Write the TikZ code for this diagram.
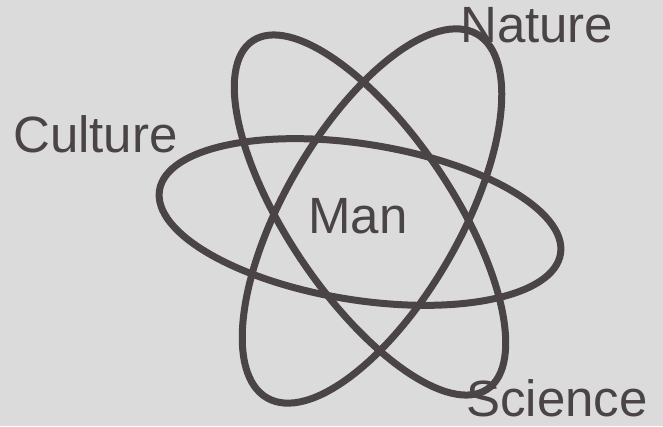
\documentclass[tikz,border=0pt]{standalone}
\usepackage{fontspec}
\setmainfont{Liberation Sans}
\usetikzlibrary{positioning}
\definecolor{paper}{HTML}{DCDBDC}
\definecolor{ink}{HTML}{4A4446}

\tikzset{
  orbit/.style={draw=ink,line width=7pt},
  word/.style={anchor=base west,inner sep=0pt,text=ink,
               font=\fontsize{51}{55}\selectfont}
}

\begin{document}
\begin{tikzpicture}[x=1pt,y=1pt]
  \fill[paper] (0,0) rectangle (663,426);
  \useasboundingbox (0,0) rectangle (663,426);

  % three orbits
  \draw[orbit,rotate around={-9:(360,204)}]  (360,204) ellipse (203 and 78);
  \draw[orbit,rotate around={60:(372,210)}]  (372,210) ellipse (210 and 88);
  \draw[orbit,rotate around={-56:(370,211)}] (370,211) ellipse (210 and 82);

  \node[word] (nature)  at (460,383) {Nature};
  \node[word] (culture) at (13,273)  {Culture};
  \node[word] (man)     at (308,193) {Man};
  \node[word] (science) at (466,10)  {Science};
\end{tikzpicture}
\end{document}
